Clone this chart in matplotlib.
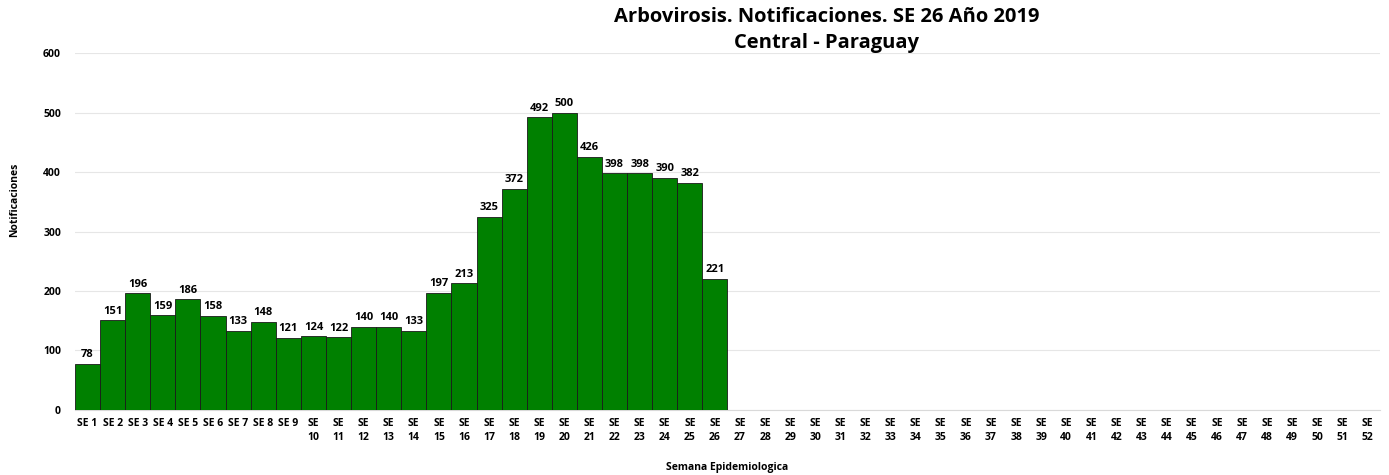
import matplotlib
matplotlib.use("Agg")
import matplotlib.pyplot as plt

plt.rcParams['font.family'] = ['Open Sans', 'DejaVu Sans']

weeks = list(range(1, 53))
values = [78, 151, 196, 159, 186, 158, 133, 148, 121, 124, 122, 140, 140, 133,
          197, 213, 325, 372, 492, 500, 426, 398, 398, 390, 382, 221]
week_labels = ['SE %d' % w if w < 10 else 'SE\n%d' % w for w in weeks]

fig = plt.figure(figsize=(13.89, 4.75), dpi=100)
ax = fig.add_axes([0.054, 0.137, 0.9395, 0.751])

x = list(range(len(values)))
bars = ax.bar(x, values, width=1.0, color='#008000', edgecolor='#1a1a1a', linewidth=0.6, zorder=3)
for xi, v in zip(x, values):
    ax.text(xi, v + 6, str(v), ha='center', va='bottom', fontsize=8, fontweight='bold', zorder=4)

ax.set_xlim(-0.5, len(weeks) - 0.5)
ax.set_ylim(0, 600)
ax.set_xticks(range(len(weeks)))
ax.set_xticklabels(week_labels, fontsize=7.5, fontweight='bold', linespacing=1.3)
ax.set_yticks([0, 100, 200, 300, 400, 500, 600])
ax.set_yticklabels(['0', '100', '200', '300', '400', '500', '600'], fontsize=7.5, fontweight='bold')
ax.tick_params(axis='both', length=0, pad=6)
ax.tick_params(axis='y', pad=10)
ax.grid(axis='y', color='#e6e6e6', linewidth=0.8, zorder=0)
for s in ['top', 'right', 'left']:
    ax.spines[s].set_visible(False)
ax.spines['bottom'].set_color('#d9d9d9')

ax.set_xlabel('Semana Epidemiologica', fontsize=7.5, fontweight='bold', labelpad=14)
ax.set_ylabel('Notificaciones', fontsize=7.5, fontweight='bold')
ax.yaxis.set_label_coords(-0.042, 0.59)

fig.text(0.595, 0.985, 'Arbovirosis. Notificaciones. SE 26 Año 2019\nCentral - Paraguay',
         ha='center', va='top', fontsize=14.5, fontweight='bold', linespacing=1.4)

fig.savefig('out.png', dpi=100)
